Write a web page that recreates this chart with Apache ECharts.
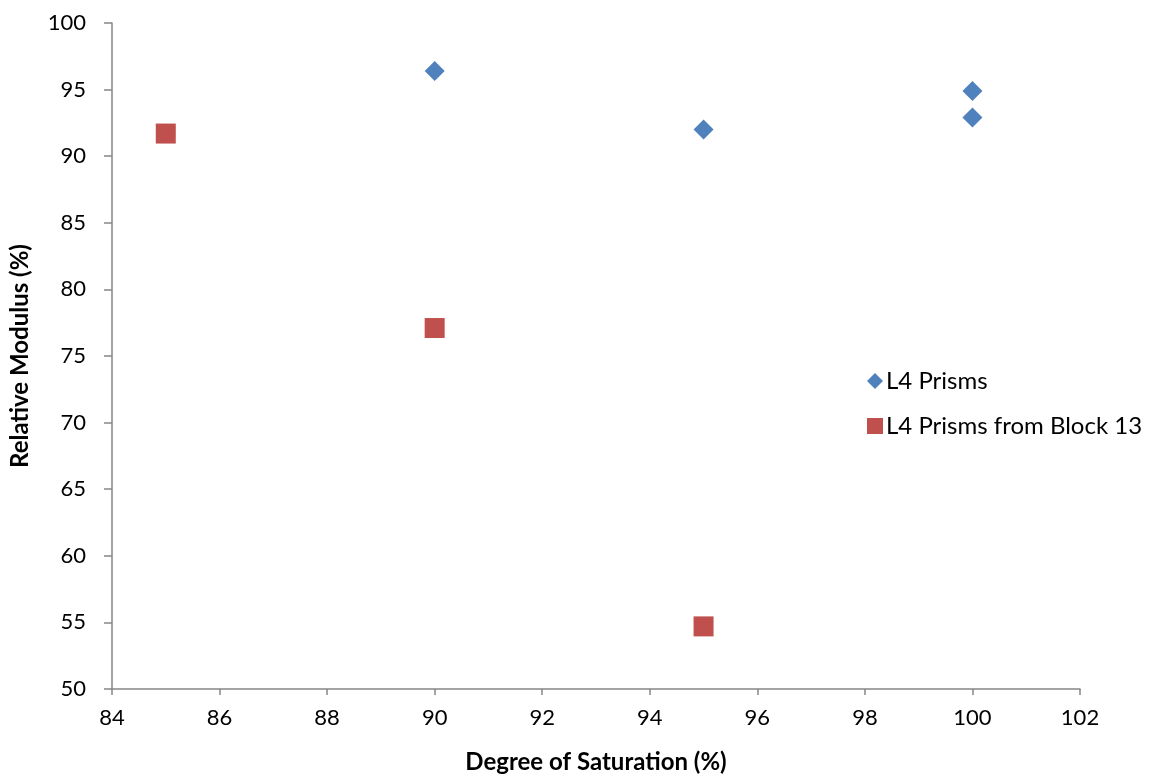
<!DOCTYPE html>
<html>
<head>
<meta charset="utf-8">
<script src="https://cdn.jsdelivr.net/npm/echarts@6/dist/echarts.min.js"></script>
<style>html,body{margin:0;padding:0;background:#fff}#c{width:1149px;height:779px}</style>
</head>
<body>
<div id="c"></div>
<script>
const xTicks = [84, 86, 88, 90, 92, 94, 96, 98, 100, 102];
const yTicks = [50, 55, 60, 65, 70, 75, 80, 85, 90, 95, 100];
const prismsX = [90, 95, 100, 100];
const prismsY = [96.4, 92.0, 94.9, 92.9];
const block13X = [85, 90, 95];
const block13Y = [91.7, 77.1, 54.7];

const font = 'Lato, "Liberation Sans", sans-serif';
const chart = echarts.init(document.getElementById('c'));
chart.setOption({
  animation: false,
  textStyle: { fontFamily: font },
  grid: { left: 111, right: 69, top: 23, bottom: 88 },
  legend: {
    orient: 'vertical', left: 862, top: 364, itemGap: 21,
    itemWidth: 16, itemHeight: 16,
    textStyle: { fontSize: 24, color: '#000', fontFamily: font, padding: [0,0,0,-2] },
    data: [
      { name: 'L4 Prisms', icon: 'diamond' },
      { name: 'L4 Prisms from Block 13', icon: 'rect' }
    ]
  },
  xAxis: {
    type: 'value', min: xTicks[0], max: xTicks[xTicks.length-1], interval: 2,
    name: 'Degree of Saturation (%)', nameLocation: 'middle', nameGap: 61,
    nameTextStyle: { fontSize: 24, fontWeight: 'bold', color: '#000', fontFamily: font },
    axisLine: { lineStyle: { color: '#868686', width: 1.5 } },
    axisTick: { show: true, length: 6, inside: false, lineStyle: { color: '#868686', width: 1.5 } },
    axisLabel: { fontSize: 22, color: '#000', margin: 18 },
    splitLine: { show: false }
  },
  yAxis: {
    type: 'value', min: yTicks[0], max: yTicks[yTicks.length-1], interval: 5,
    name: 'Relative Modulus (%)', nameLocation: 'middle', nameGap: 80,
    nameTextStyle: { fontSize: 24, fontWeight: 'bold', color: '#000', fontFamily: font },
    axisLine: { show: true, lineStyle: { color: '#868686', width: 1.5 } },
    axisTick: { show: true, length: 8, lineStyle: { color: '#868686', width: 1.5 } },
    axisLabel: { fontSize: 22, color: '#000', margin: 26 },
    splitLine: { show: false }
  },
  series: [
    {
      name: 'L4 Prisms', type: 'scatter', symbol: 'diamond', symbolSize: 20,
      itemStyle: { color: '#4F81BD', opacity: 1 },
      data: prismsX.map((x, i) => [x, prismsY[i]])
    },
    {
      name: 'L4 Prisms from Block 13', type: 'scatter', symbol: 'rect', symbolSize: 20,
      itemStyle: { color: '#C0504D', opacity: 1 },
      data: block13X.map((x, i) => [x, block13Y[i]])
    }
  ]
});
</script>
</body>
</html>
